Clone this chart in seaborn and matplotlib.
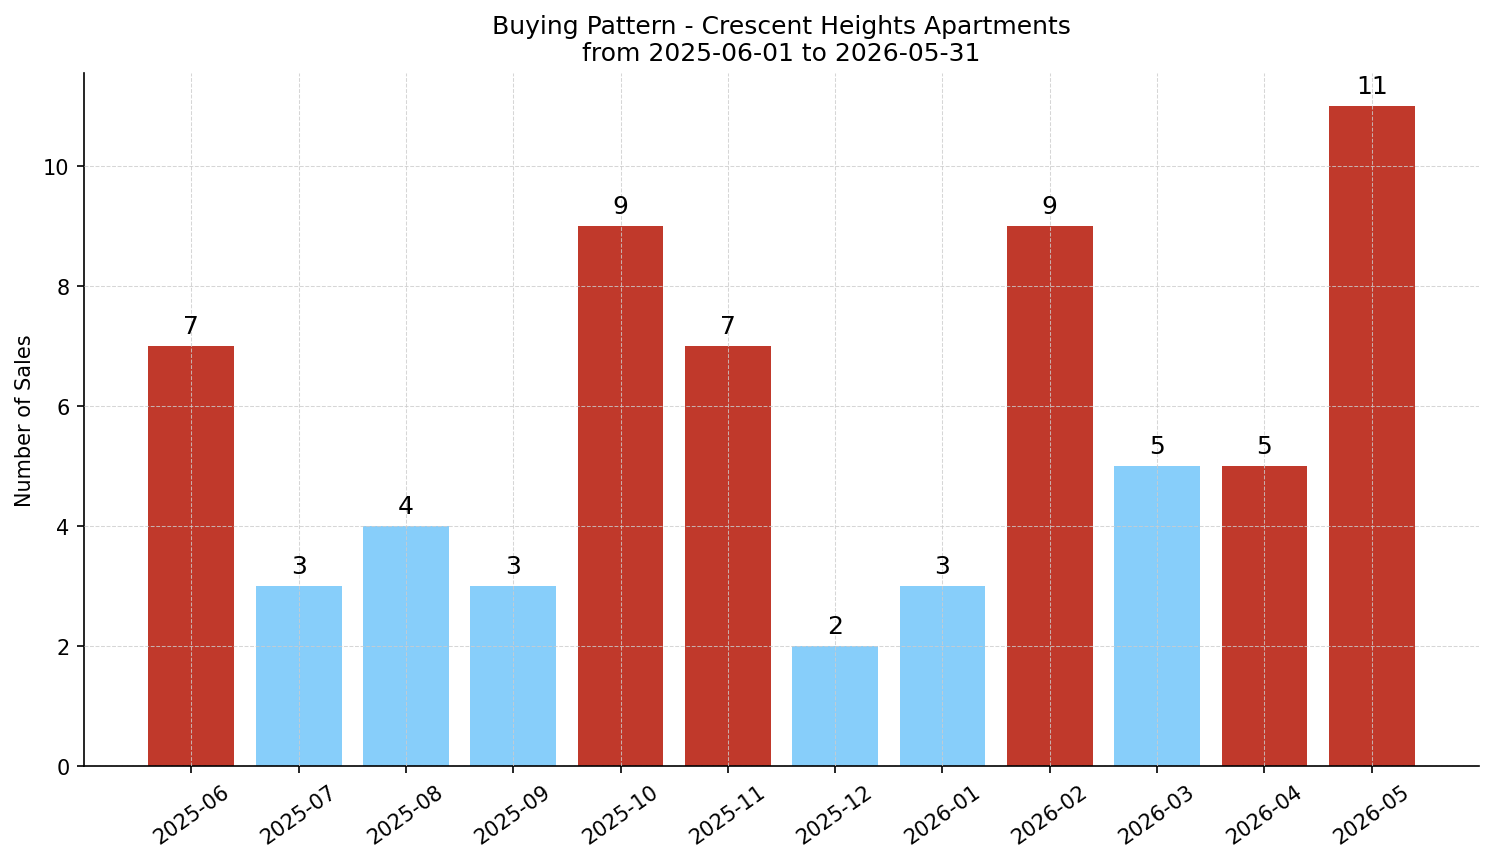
import matplotlib
matplotlib.use("Agg")
import matplotlib.pyplot as plt
import seaborn as sns
import pandas as pd

months = ["2025-06", "2025-07", "2025-08", "2025-09", "2025-10", "2025-11",
          "2025-12", "2026-01", "2026-02", "2026-03", "2026-04", "2026-05"]
sales = [7, 3, 4, 3, 9, 7, 2, 3, 9, 5, 5, 11]
group = ["high", "low", "low", "low", "high", "high",
         "low", "low", "high", "low", "high", "high"]

palette = {"high": "#C0392B", "low": "#87CEFA"}

df = pd.DataFrame({"month": months, "sales": sales, "group": group})

fig, ax = plt.subplots(figsize=(9.96, 5.753), dpi=150)

sns.barplot(data=df, x="month", y="sales", hue="group", palette=palette,
            dodge=False, width=0.8, saturation=1, legend=False, ax=ax)

for c in ax.containers:
    labels = [f"{int(v)}" if v == v and v > 0 else "" for v in c.datavalues]
    ax.bar_label(c, labels=labels, padding=4, fontsize=12)

ax.set_xlim(-1, len(months))
ax.set_ylim(0, max(sales) * 1.05)
ax.grid(True, linestyle="--", color="#cccccc", linewidth=0.5, alpha=0.8)
ax.set_axisbelow(False)
ax.spines["top"].set_visible(False)
ax.spines["right"].set_visible(False)
ax.set_xlabel("")
ax.set_ylabel("Number of Sales")
ax.set_title("Buying Pattern - Crescent Heights Apartments\nfrom 2025-06-01 to 2026-05-31", fontsize=12)
plt.setp(ax.get_xticklabels(), rotation=35)

fig.subplots_adjust(left=0.0562, right=0.99, top=0.9143, bottom=0.1112)
plt.savefig("out.png", dpi=150)
